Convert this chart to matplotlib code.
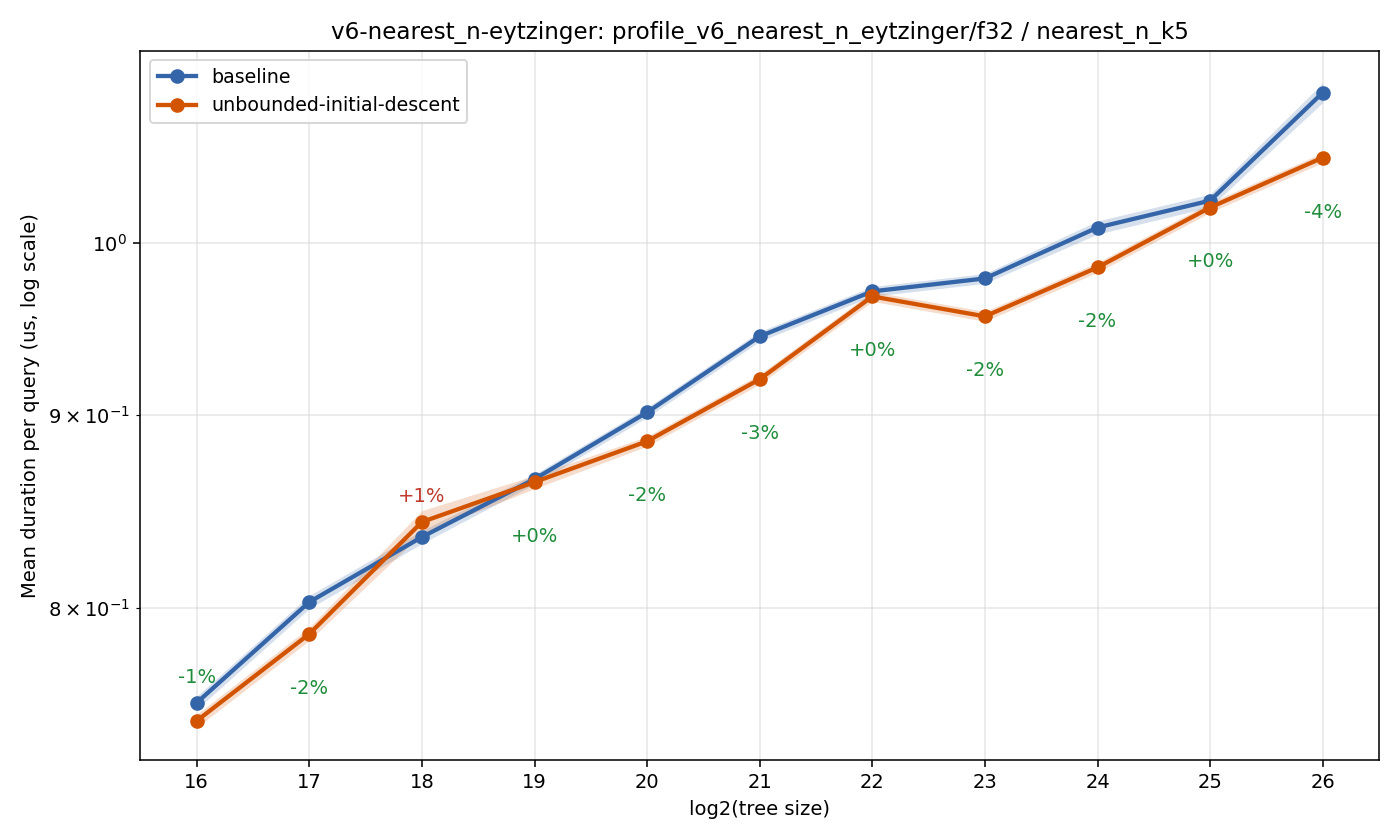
import matplotlib
matplotlib.use("Agg")
import matplotlib.pyplot as plt
import numpy as np

TITLE = "v6-nearest_n-eytzinger: profile_v6_nearest_n_eytzinger/f32 / nearest_n_k5"

tree_log2 = [16, 17, 18, 19, 20, 21, 22, 23, 24, 25, 26]
baseline = [0.7550, 0.8029, 0.8354, 0.8655, 0.9015, 0.9443, 0.9706, 0.9783, 1.0092, 1.0259, 1.0958]
unbounded = [0.7467, 0.7874, 0.8431, 0.8639, 0.8857, 0.9199, 0.9676, 0.9559, 0.9849, 1.0216, 1.0532]
# approximate half-width of the shaded band, in percent of the mean
baseline_spread = [0.4, 0.4, 0.4, 0.3, 0.3, 0.3, 0.3, 0.3, 0.4, 0.4, 0.6]
unbounded_spread = [0.4, 0.4, 0.7, 0.4, 0.3, 0.3, 0.3, 0.3, 0.3, 0.3, 0.3]

SERIES = [
    ("baseline", baseline, baseline_spread, "#3465a8"),
    ("unbounded-initial-descent", unbounded, unbounded_spread, "#d35400"),
]


def main():
    x = np.array(tree_log2)
    fig, ax = plt.subplots(figsize=(10, 6), dpi=140)

    for label, vals, spread, color in SERIES:
        v = np.array(vals)
        s = np.array(spread) / 100.0
        ax.fill_between(x, v * (1 - s), v * (1 + s), color=color, alpha=0.2, linewidth=0)
        ax.plot(x, v, "-o", color=color, lw=2.2, ms=6.5, label=label)

    ax.set_yscale("log")

    b, u = np.array(baseline), np.array(unbounded)
    pct = (u / b - 1) * 100
    for i, xi in enumerate(x):
        p = int(round(pct[i]))
        color = "#c0392b" if p > 0 else "#1e8c3a"
        # below the lower point, except where it would fall off the axes or is a regression
        if p > 0 or i == 0:
            y, dy = max(b[i], u[i]), 13
        else:
            y, dy = min(b[i], u[i]), -28
        ax.annotate(f"{p:+d}%", (xi, y), xytext=(0, dy), textcoords="offset points",
                    ha="center", va="center", color=color, fontsize=10)

    ax.set_xticks(x)
    ax.grid(True, which="both", color="#d8d8d8", lw=0.8, alpha=0.6)
    ax.set_axisbelow(True)
    ax.set_xlabel("log2(tree size)")
    ax.set_ylabel("Mean duration per query (us, log scale)")
    ax.set_title(TITLE, fontsize=11.8)
    ax.legend(loc="upper left", fontsize=9.8)
    fig.tight_layout()
    fig.savefig("out.png", dpi=140)


if __name__ == "__main__":
    main()
